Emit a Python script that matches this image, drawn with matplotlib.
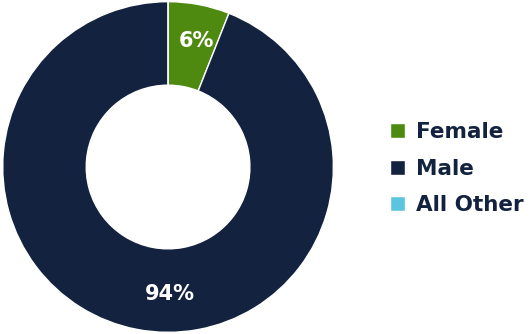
import numpy as np
import matplotlib.pyplot as plt

labels = ['Female', 'Male', 'All Other']
values = [6, 94, 0]
colors = ['#4F8A10', '#13233F', '#5BC4DE']

fig = plt.figure(figsize=(5.31, 3.34), dpi=100)
ax = fig.add_axes([0.002, 0.0, 334 / 531, 1.0])

wedges, _ = ax.pie(values, colors=colors, startangle=90, counterclock=False,
                   radius=0.99, wedgeprops=dict(width=0.5, edgecolor='white', linewidth=1))

# percent labels in the middle of the ring (big slice label sits at the bottom)
total = sum(values)
ang = 90
for v in values:
    if v == 0:
        continue
    mid = ang - v / total * 360 / 2
    ang -= v / total * 360
    if v > 50:
        mid = -89
    r = 0.76
    x, y = r * np.cos(np.radians(mid)), r * np.sin(np.radians(mid))
    if v < 50:
        x += 0.025
        y += 0.01
    ax.text(x, y, f'{v}%', ha='center', va='center', color='white',
            fontsize=15, fontweight='bold', family='DejaVu Sans')

ax.set_xlim(-1, 1)
ax.set_ylim(-1, 1)
ax.set_aspect('equal')
ax.axis('off')

leg = fig.legend(wedges, labels, loc='center left', bbox_to_anchor=(390 / 531, 0.495),
                 frameon=False, handlelength=0.7, handleheight=0.7, handletextpad=0.5,
                 labelspacing=0.78, borderpad=0, borderaxespad=0,
                 prop=dict(size=15.5, weight='bold', family='DejaVu Sans'))
for t in leg.get_texts():
    t.set_color('#13233F')

fig.savefig('out.png', dpi=100)
